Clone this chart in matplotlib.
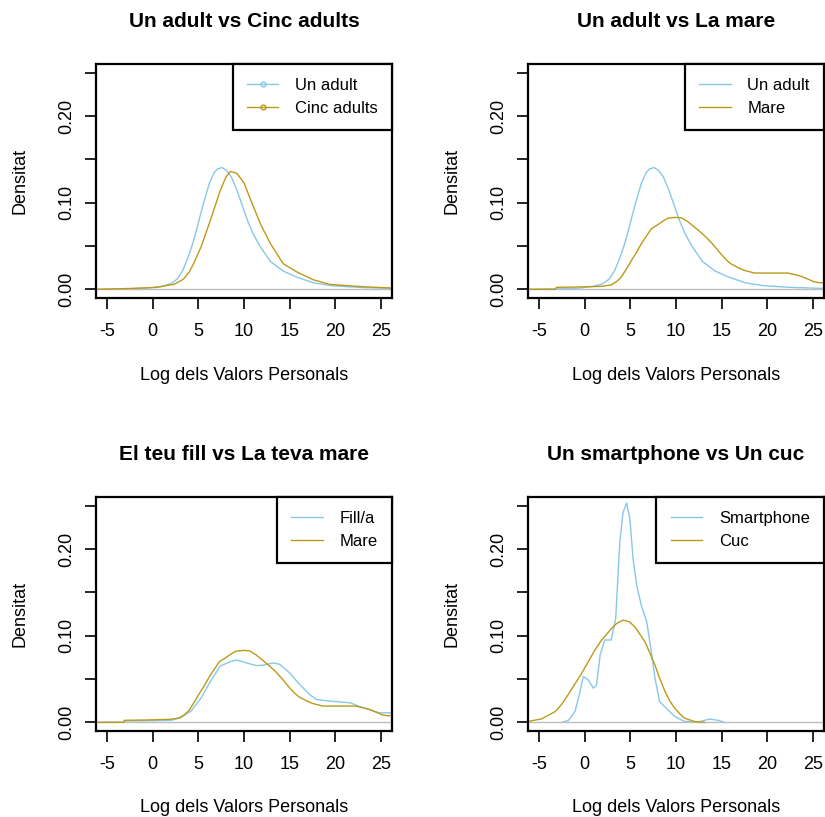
import matplotlib.pyplot as plt
from matplotlib.lines import Line2D

# density curves (x = log value, y = density)
adult_x = [-6.2, -2.5, -0.5, 1.0, 2.0, 2.7, 3.3, 3.8, 4.3, 4.8, 5.2, 5.7, 6.2, 6.7, 7.1, 7.6,
           8.1, 8.6, 9.2, 9.8, 10.4, 11.0, 11.8, 12.9, 14.3, 15.8, 17.6, 19.6, 22.5, 26.2]
adult_y = [0.0, 0.0007, 0.0015, 0.0035, 0.0065, 0.012, 0.022, 0.035, 0.05, 0.068, 0.085,
           0.104, 0.122, 0.134, 0.139, 0.1405, 0.137, 0.13, 0.115, 0.097, 0.079, 0.064,
           0.049, 0.032, 0.021, 0.014, 0.0075, 0.0042, 0.0023, 0.001]

cinc_x = [-6.2, -2.4, 0.5, 2.4, 3.4, 4.0, 4.5, 5.3, 6.3, 7.4, 8.0, 8.5, 9.2, 10.0, 10.7,
          11.8, 12.9, 14.3, 15.8, 17.6, 19.4, 23.0, 26.2]
cinc_y = [0.0, 0.001, 0.0023, 0.006, 0.012, 0.02, 0.03, 0.049, 0.079, 0.114, 0.129, 0.136,
          0.134, 0.123, 0.104, 0.0755, 0.0525, 0.0295, 0.020, 0.011, 0.0057, 0.003, 0.0015]

mare_x = [-6.2, -3.2, -3.1, -0.7, 1.9, 2.9, 3.5, 4.0, 4.6, 5.1, 5.7, 6.2, 6.8, 7.3, 8.0,
          8.6, 9.1, 9.9, 10.6, 11.3, 12.0, 12.8, 13.5, 14.2, 14.9, 15.5, 16.0, 16.8, 17.5,
          18.6, 20.5, 22.2, 23.0, 23.7, 24.4, 25.1, 25.6, 26.2]
mare_y = [0.0, 0.0, 0.0023, 0.0027, 0.0035, 0.005, 0.009, 0.014, 0.024, 0.033, 0.043,
          0.0525, 0.062, 0.070, 0.0745, 0.079, 0.082, 0.083, 0.0825, 0.078, 0.072, 0.065,
          0.058, 0.05, 0.041, 0.034, 0.0295, 0.025, 0.0218, 0.0188, 0.0188, 0.0188, 0.017,
          0.015, 0.012, 0.0088, 0.0077, 0.0077]

fill_x = [-6.2, -3.1, -3.0, 2.0, 3.1, 4.2, 5.3, 6.3, 7.4, 8.5, 9.2, 10.3, 11.4, 12.1, 13.2,
          13.9, 15.0, 16.1, 17.2, 17.9, 19.4, 21.6, 23.0, 24.8, 26.2]
fill_y = [0.0, 0.0, 0.0015, 0.0023, 0.0054, 0.013, 0.028, 0.047, 0.065, 0.070, 0.072,
          0.0685, 0.0654, 0.066, 0.0685, 0.067, 0.057, 0.0436, 0.032, 0.0264, 0.0245,
          0.0226, 0.0168, 0.011, 0.011]

smart_x = [-2.5, -1.8, -1.05, -0.5, -0.15, 0.4, 0.95, 1.3, 1.7, 2.2, 2.9, 3.4, 3.85, 4.2,
           4.6, 4.95, 5.3, 5.7, 6.2, 6.8, 7.3, 7.7, 8.2, 8.9, 9.85, 10.9, 12.4, 13.7,
           14.6, 15.3]
smart_y = [0.0, 0.002, 0.0126, 0.0356, 0.053, 0.049, 0.0394, 0.043, 0.078, 0.095, 0.095,
           0.12, 0.208, 0.242, 0.253, 0.2345, 0.189, 0.158, 0.135, 0.116, 0.0815, 0.051,
           0.024, 0.0165, 0.0069, 0.0011, 0.0004, 0.0038, 0.0023, 0.0]

cuc_x = [-6.2, -4.7, -3.2, -2.5, -1.8, -0.3, 0.4, 1.1, 1.8, 2.6, 3.0, 3.5, 4.2, 4.9, 5.5,
         5.9, 6.6, 7.1, 7.7, 8.2, 8.8, 9.3, 9.85, 10.4, 10.9, 12.0, 13.1]
cuc_y = [0.001, 0.004, 0.0126, 0.021, 0.032, 0.057, 0.070, 0.083, 0.094, 0.104, 0.109,
         0.114, 0.118, 0.116, 0.110, 0.104, 0.093, 0.081, 0.066, 0.051, 0.0356, 0.025,
         0.0165, 0.010, 0.005, 0.001, 0.0]

titles = ["Un adult vs Cinc adults", "Un adult vs La mare",
          "El teu fill vs La teva mare", "Un smartphone vs Un cuc"]
series = [
    ((adult_x, adult_y, "Un adult"), (cinc_x, cinc_y, "Cinc adults")),
    ((adult_x, adult_y, "Un adult"), (mare_x, mare_y, "Mare")),
    ((fill_x, fill_y, "Fill/a"), (mare_x, mare_y, "Mare")),
    ((smart_x, smart_y, "Smartphone"), (cuc_x, cuc_y, "Cuc")),
]

blue = "#87C8EA"
gold = "#BC9A18"

plt.rcParams['font.family'] = ['Liberation Sans', 'DejaVu Sans']
plt.rcParams['axes.unicode_minus'] = False

fig = plt.figure(figsize=(8.25, 8.17), dpi=100)

W, H = 825, 817
ax_w, ax_h = 296, 234
# top-left pixel corners of each plot box
corners = [(96, 64), (528, 64), (96, 497), (528, 497)]

for i, ((x0, y0), title) in enumerate(zip(corners, titles)):
    ax = fig.add_axes([x0 / W, 1 - (y0 + ax_h) / H, ax_w / W, ax_h / H])
    (ax1, ay1, l1), (ax2, ay2, l2) = series[i]
    ax.plot(ax1, ay1, color=blue, lw=1.0, label=l1)
    ax.axhline(0, color="#BEBEBE", lw=1.0)
    ax.plot(ax2, ay2, color=gold, lw=1.0, label=l2)

    ax.set_xlim(-6.2, 26.2)
    ax.set_ylim(-0.01, 0.26)
    ax.set_xticks([-5, 0, 5, 10, 15, 20, 25])
    ax.set_yticks([0, 0.05, 0.10, 0.15, 0.20, 0.25])
    ax.set_yticklabels(["0.00", "", "0.10", "", "0.20", ""])
    ax.tick_params(direction="out", length=8, width=1.2, labelsize=13, colors="black")
    ax.tick_params(axis="x", pad=10)
    ax.tick_params(axis="y", pad=7, labelrotation=90)
    for lab in ax.get_yticklabels():
        lab.set_va("center")
    for sp in ax.spines.values():
        sp.set_linewidth(1.6)

    ax.set_title(title, fontsize=15, fontweight="bold", y=1 + 43 / ax_h, va="center", pad=0)
    ax.set_xlabel("Log dels Valors Personals", fontsize=13)
    ax.xaxis.set_label_coords(0.5, -77 / ax_h)
    ax.xaxis.label.set_va("center")
    ax.set_ylabel("Densitat", fontsize=13)
    ax.yaxis.set_label_coords(-76 / ax_w, 0.5)
    ax.yaxis.label.set_va("center")

    legend_kw = dict(loc="upper right", bbox_to_anchor=(1, 1), borderaxespad=0,
                     fontsize=12, fancybox=False, framealpha=1, edgecolor="black",
                     handlelength=1.9, handletextpad=1.0, borderpad=0.85,
                     labelspacing=0.45)
    if i == 0:
        handles = [Line2D([], [], color=blue, lw=1.0, marker="o", ms=3.5, mfc="none"),
                   Line2D([], [], color=gold, lw=1.0, marker="o", ms=3.5, mfc="none")]
        leg = ax.legend(handles, [l1, l2], **legend_kw)
    else:
        leg = ax.legend(**legend_kw)
    leg.get_frame().set_linewidth(1.6)

fig.savefig("out.png", dpi=100)
